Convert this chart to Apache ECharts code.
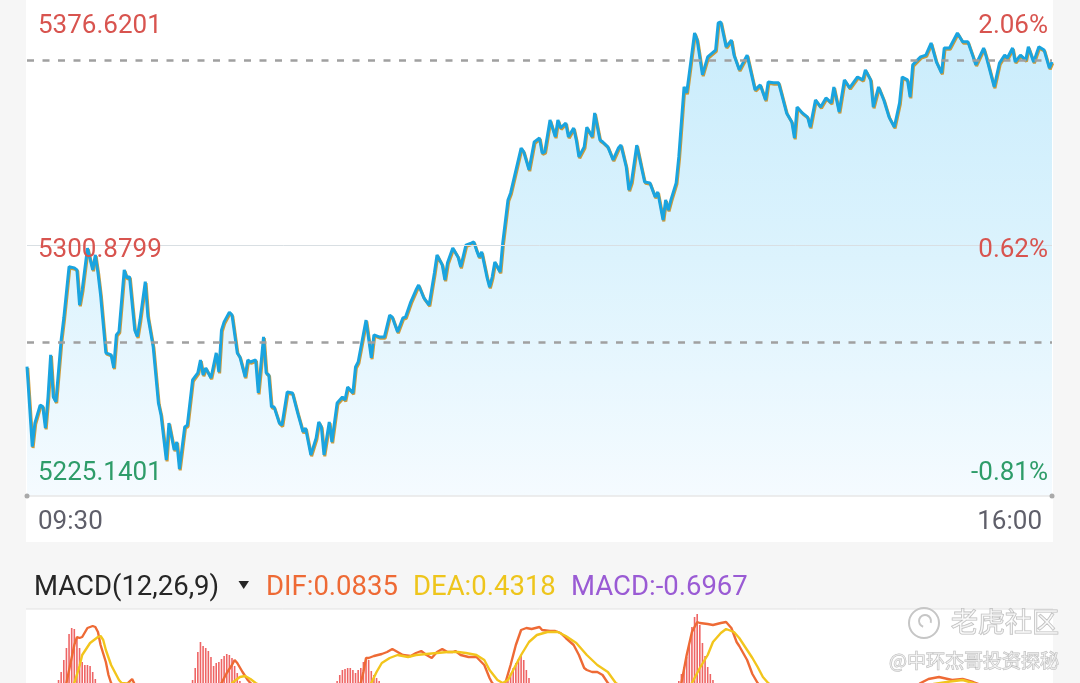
<!DOCTYPE html>
<html><head><meta charset="utf-8">
<script src="https://cdn.jsdelivr.net/npm/echarts@6/dist/echarts.min.js"></script>
<style>html,body{margin:0;padding:0;background:#f6f6f6;}#c{width:1080px;height:683px;}</style>
</head><body><div id="c"></div>
<script>
// ---- price (minutes after 09:30) ----
const priceMinutes = [0,2,3,5,6,7,8,9,10,11,13,14,16,18,19,20,21,23,25,26,27,28,30,32,33,34,35,37,38,39,41,42,43,45,46,48,50,51,53,54,56,57,58,60,61,63,65,66,67,68,70,72,73,74,75,77,78,80,81,83,84,85,87,88,90,91,92,93,94,96,97,99,101,103,105,106,108,110,111,112,113,115,116,118,120,121,122,124,125,126,129,131,132,134,136,138,139,141,143,144,146,148,149,151,153,155,156,158,159,160,162,164,165,167,169,170,171,172,173,175,176,177,178,180,181,183,184,188,189,191,193,195,196,197,199,201,202,203,205,206,208,209,210,212,213,215,216,218,219,221,223,225,226,228,229,230,232,234,235,237,239,240,242,243,244,245,247,248,250,251,252,254,255,257,259,262,263,264,266,268,269,271,274,277,279,281,282,284,286,289,291,292,293,295,297,298,300,302,304,306,307,309,311,313,316,318,319,321,322,324,326,328,330,332,333,335,336,337,340,342,344,346,348,349,351,354,356,358,360,361,364,365,366,368,370,372,373,375,376,378,380,381,383,385,387,389,390];
const priceValues = [5259.8,5232.7,5240.7,5246.8,5246.3,5239.0,5249.6,5263.8,5249.6,5247.9,5268.9,5276.3,5293.7,5293.3,5292.6,5280.7,5285.8,5300.0,5292.6,5297.7,5291.6,5284.1,5264.5,5263.8,5259.4,5270.6,5271.7,5292.6,5289.9,5290.3,5272.2,5270.0,5275.6,5288.6,5276.8,5266.6,5247.5,5243.4,5228.2,5240.7,5231.6,5234.3,5225.14,5239.4,5240.0,5255.3,5257.7,5262.1,5257.0,5259.4,5256.0,5264.5,5258.0,5272.2,5275.0,5278.3,5277.3,5264.5,5263.1,5256.3,5262.1,5261.4,5262.1,5250.9,5269.9,5257.7,5257.0,5246.2,5246.2,5240.7,5240.0,5251.2,5250.9,5244.1,5237.7,5239.0,5229.9,5235.6,5241.1,5239.4,5229.9,5241.1,5234.3,5247.5,5249.5,5248.5,5252.9,5250.9,5259.7,5261.4,5275.6,5262.8,5270.6,5269.9,5269.9,5277.3,5276.6,5271.6,5276.3,5276.6,5281.7,5285.8,5287.5,5283.1,5280.7,5291.6,5297.7,5294.3,5289.2,5295.0,5300.0,5297.0,5293.6,5301.0,5301.7,5302.1,5299.4,5297.0,5298.7,5290.2,5286.8,5290.2,5295.3,5291.9,5301.7,5316.3,5318.7,5333.9,5332.6,5326.5,5336.0,5337.3,5332.2,5332.6,5343.4,5337.7,5343.4,5340.7,5342.4,5337.7,5340.7,5336.6,5330.9,5334.3,5341.0,5337.7,5345.8,5336.6,5336.0,5334.3,5329.9,5333.9,5334.9,5327.5,5319.7,5322.4,5334.9,5326.5,5322.4,5322.1,5317.3,5319.0,5309.5,5316.3,5312.9,5316.3,5322.1,5330.9,5354.6,5352.6,5359.3,5372.9,5370.5,5358.7,5364.8,5367.1,5376.3,5376.62,5368.2,5370.5,5365.4,5360.4,5365.4,5353.6,5355.3,5350.2,5356.3,5356.0,5356.0,5345.8,5342.7,5337.3,5347.8,5345.8,5344.4,5341.0,5350.2,5347.8,5350.9,5349.2,5354.6,5346.1,5357.0,5354.3,5358.0,5357.0,5360.4,5357.0,5347.8,5354.6,5350.2,5344.4,5341.0,5349.2,5358.0,5357.0,5351.2,5362.1,5364.8,5365.4,5369.5,5363.1,5359.3,5367.8,5367.8,5372.9,5369.9,5369.9,5364.8,5362.1,5367.8,5364.8,5361.4,5354.6,5362.7,5365.4,5364.4,5367.8,5363.1,5365.4,5363.7,5368.2,5363.1,5368.2,5367.1,5361.0,5363.1];
const priceLabelValues = [5376.6201, 5300.8799, 5225.1401];
const pctLabels = ['2.06%', '0.62%', '-0.81%'];
const timeLabels = ['09:30', '16:00'];
const prevClose = 5268.05;
const refPrice = 5363.7;

// ---- MACD(12,26,9) ----
const macdMinutes = [12,13,14,15,16,17,18,19,20,21,22,23,24,25,26,27,28,29,30,
  62,63,64,65,66,67,68,69,70,71,72,73,74,75,76,77,78,79,80,81,82,
  116,117,118,119,120,121,122,123,124,125,126,127,128,129,130,131,132,133,134,135,
  182,183,184,185,186,187,188,189,190,191,192,
  247,248,249,250,251,252,253,254,255,256,257,258,259,260,261,262,390];
const macdValues = [3.0,3.8,5.0,6.2,7.6,8.2,8.1,7.2,6.2,4.8,4.5,4.5,4.4,3.8,3.1,2.5,1.8,1.0,0.3,
  2.2,3.0,4.2,5.8,6.8,6.4,6.2,5.9,5.3,4.4,4.7,4.8,5.1,5.4,5.6,5.5,5.2,4.4,3.7,2.9,2.3,
  1.5,2.2,2.9,3.5,4.0,4.1,4.2,4.2,4.0,3.7,4.0,4.2,4.8,5.2,5.0,3.9,3.5,3.2,2.9,2.4,
  2.2,2.9,3.6,4.2,4.7,5.1,5.5,5.0,4.0,3.2,2.5,
  2.2,2.9,3.6,4.3,5.3,6.5,8.3,9.3,9.6,8.5,6.7,5.4,4.3,3.6,3.0,2.5,-0.6967];
const difMinutes = [0,5,10,15,18,19,20,21,23,25,26,27,28,30,31,32,35,38,40,42,48,55,60,66,72,74,76,78,79,80,82,84,85,90,100,110,118,
  127,128,129,130,132,135,137,139,141,143,146,148,150,152,154,156,158,160,162,163,165,168,171,174,176,177,180,182,184,186,188,190,192,195,196,199,201,203,205,208,210,212,213,215,217,219,221,228,238,244,
  249,251,253,255,256,259,261,264,266,268,270,271,274,276,278,285,300,315,325,334,340,343,347,352,356,360,363,370,380,390];
const difValues = [0.0,-1.0,0.5,2.7,6.5,7.3,7.2,7.3,8.2,8.4,8.3,7.8,6.5,4.8,3.5,2.7,1.8,2.6,3.1,2.0,0.0,-2.5,-1.0,1.0,2.0,2.7,3.7,4.5,5.0,4.7,3.8,3.0,2.7,1.5,-1.5,-1.0,1.0,
  2.7,3.8,5.2,5.2,5.4,5.6,5.8,6.1,5.8,5.5,5.4,5.7,5.9,5.5,5.2,5.8,6.1,5.8,5.8,5.9,5.5,5.3,5.3,4.5,3.2,2.7,2.0,2.7,4.5,6.5,8.0,8.2,8.1,8.3,8.0,7.9,7.9,7.7,7.2,6.5,5.5,4.2,4.0,3.8,3.8,3.5,2.7,1.0,-1.0,0.5,
  2.7,5.5,7.8,8.8,8.7,8.6,8.5,8.7,8.8,8.2,6.8,6.4,5.0,3.6,2.7,0.5,-1.0,0.5,-0.5,1.5,2.7,3.1,3.3,3.0,3.1,2.8,2.5,1.5,0.6,0.0835];
const deaMinutes = [0,10,14,18,20,21,24,27,28,29,30,32,35,36,40,45,55,65,75,78,81,83,85,87,95,105,115,123,
  131,133,135,138,141,145,148,152,156,160,164,167,171,174,176,179,181,183,185,188,191,194,198,202,205,209,213,217,221,224,232,242,250,
  253,256,259,261,264,266,269,271,274,276,278,280,282,290,305,320,330,338,345,350,356,361,370,380,390];
const deaValues = [0.0,-0.3,0.5,2.7,4.4,5.5,6.7,7.3,7.4,7.0,6.0,4.5,3.0,2.7,2.6,2.0,-0.5,-1.0,0.5,2.7,3.3,3.4,3.1,2.7,1.5,0.0,-0.5,0.5,
  2.7,3.8,4.7,5.2,5.5,5.3,5.5,5.6,5.7,5.8,5.8,5.7,5.5,5.0,4.0,3.0,2.7,3.0,4.0,5.5,6.8,7.5,7.8,7.8,7.4,6.7,5.5,4.5,3.8,2.7,1.5,0.5,1.5,
  2.7,4.2,5.5,6.8,7.7,8.1,7.8,7.2,6.0,5.2,4.3,3.3,2.7,1.0,-0.5,0.0,1.0,2.2,2.6,2.8,3.0,2.6,1.5,0.8,0.4318];

function zip(a, b) { const n = Math.min(a.length, b.length); const r = []; for (let i = 0; i < n; i++) r.push([a[i], b[i]]); return r; }
const FONT = 'Roboto, "Noto Sans", sans-serif';
const CJK = '"Noto Sans CJK SC", sans-serif';
const RED = '#d8544f', GREEN = '#2e9c69';
const yMin = 5215.99, yMax = 5384.075;

function nearestIdx(v) { v = +v; let bi = 0, bd = Infinity; priceLabelValues.forEach((p, i) => { const d = Math.abs(p - v); if (d < bd) { bd = d; bi = i; } }); return bi; }

const chart = echarts.init(document.getElementById('c'), null, { renderer: 'canvas' });
const last = arr => arr[arr.length - 1];

const option = {
  backgroundColor: '#f6f6f6',
  animation: false,
  grid: [
    { left: 27, right: 28, top: 0, height: 496 },
    { left: 27, right: 28, top: 610, bottom: 0 }
  ],
  xAxis: [
    { type: 'value', gridIndex: 0, min: 0, max: 390, interval: 390, z: 5,
      axisLine: { show: true, onZero: false, lineStyle: { color: '#e8e8e8', width: 1.5 } },
      axisTick: { show: false }, splitLine: { show: false },
      axisLabel: { show: true, margin: 13, fontSize: 26, fontFamily: FONT, color: '#5f5f6a',
        alignMinLabel: 'left', alignMaxLabel: 'right', padding: [0, 10, 0, 11],
        formatter: v => v === 0 ? timeLabels[0] : (v === 390 ? timeLabels[1] : '') } },
    { type: 'value', gridIndex: 1, min: 0, max: 390, show: false }
  ],
  yAxis: [
    { type: 'value', gridIndex: 0, min: yMin, max: yMax, position: 'left', z: 5,
      axisLine: { show: false }, axisTick: { show: false }, splitLine: { show: false },
      axisLabel: { inside: true, margin: 11, fontSize: 26, fontFamily: FONT, verticalAlign: 'top', lineHeight: 10,
        customValues: priceLabelValues,
        formatter: v => priceLabelValues[nearestIdx(v)].toFixed(4),
        color: v => (+v >= prevClose ? RED : GREEN) } },
    { type: 'value', gridIndex: 1, min: 2.7, max: 10, show: false },
    { type: 'value', gridIndex: 0, min: yMin, max: yMax, position: 'right', z: 5,
      axisLine: { show: false }, axisTick: { show: false }, splitLine: { show: false },
      axisLabel: { inside: true, margin: 4, fontSize: 26, fontFamily: FONT, verticalAlign: 'top', lineHeight: 10,
        customValues: priceLabelValues,
        formatter: v => pctLabels[nearestIdx(v)],
        color: v => (+v >= prevClose ? RED : GREEN) } }
  ],
  series: [
    { type: 'line', xAxisIndex: 0, yAxisIndex: 0, data: zip(priceMinutes, priceValues),
      showSymbol: false, symbol: 'none', z: 3,
      lineStyle: { color: '#1aa4df', width: 3, shadowColor: 'rgba(205,145,35,0.9)', shadowBlur: 0, shadowOffsetX: 0.8, shadowOffsetY: 1.3 },
      areaStyle: { opacity: 1, color: new echarts.graphic.LinearGradient(0, 0, 0, 1, [
        { offset: 0, color: '#c9ecfc' }, { offset: 0.5, color: '#dcf3fd' }, { offset: 1, color: '#f5fbff' }]) },
      markLine: { silent: true, symbol: ['none', 'none'], label: { show: false }, animation: false, z: 4,
        data: [
          { yAxis: priceLabelValues[1], lineStyle: { type: 'solid', color: '#d9dfe3', width: 1 } },
          { yAxis: prevClose, lineStyle: { type: [7, 8.5], color: '#a0a0a0', width: 2.5 } },
          { yAxis: refPrice, lineStyle: { type: [7, 8.5], color: '#a0a0a0', width: 2.5 } }
        ] } },
    { type: 'bar', xAxisIndex: 1, yAxisIndex: 1, data: zip(macdMinutes, macdValues), barWidth: 1.6,
      itemStyle: { color: p => (p.value[1] >= 0 ? 'rgba(236,84,84,0.9)' : GREEN) } },
    { type: 'line', xAxisIndex: 1, yAxisIndex: 1, data: zip(difMinutes, difValues), showSymbol: false, symbol: 'none',
      lineStyle: { color: '#ee6a35', width: 2.4 } },
    { type: 'line', xAxisIndex: 1, yAxisIndex: 1, data: zip(deaMinutes, deaValues), showSymbol: false, symbol: 'none',
      lineStyle: { color: '#f2c51c', width: 2.4 } }
  ],
  graphic: [
    { type: 'rect', z: -1, silent: true, shape: { x: 26, y: 0, width: 1027, height: 542 }, style: { fill: '#ffffff' } },
    { type: 'rect', z: -1, silent: true, shape: { x: 26, y: 609, width: 1027, height: 74 }, style: { fill: '#ffffff' } },
    { type: 'line', silent: true, shape: { x1: 26, y1: 609, x2: 1053, y2: 609 }, style: { stroke: '#e2e2e2', lineWidth: 1 } },
    { type: 'circle', silent: true, z: 10, shape: { cx: 27, cy: 496, r: 2.5 }, style: { fill: '#a9a9a9' } },
    { type: 'circle', silent: true, z: 10, shape: { cx: 1052, cy: 496, r: 2.5 }, style: { fill: '#a9a9a9' } },
    { type: 'text', silent: true, x: 34, y: 588, style: { text: 'MACD(12,26,9)', fill: '#262626', font: '27.5px ' + FONT, verticalAlign: 'middle', align: 'left' } },
    { type: 'polygon', silent: true, shape: { points: [[238.5, 581], [249, 581], [243.7, 589]] }, style: { fill: '#262626' } },
    { type: 'text', silent: true, x: 266, y: 588, style: { text: 'DIF:' + last(difValues).toFixed(4), fill: '#ee6a35', font: '27.5px ' + FONT, verticalAlign: 'middle', align: 'left' } },
    { type: 'text', silent: true, x: 413, y: 588, style: { text: 'DEA:' + last(deaValues).toFixed(4), fill: '#eec51c', font: '27.5px ' + FONT, verticalAlign: 'middle', align: 'left' } },
    { type: 'text', silent: true, x: 571, y: 588, style: { text: 'MACD:' + last(macdValues).toFixed(4), fill: '#9a5bd4', font: '27.5px ' + FONT, verticalAlign: 'middle', align: 'left' } },
    { type: 'circle', silent: true, z: 20, shape: { cx: 924, cy: 623, r: 15 }, style: { fill: 'rgba(255,255,255,0.4)', stroke: '#c6c6c6', lineWidth: 2 } },
    { type: 'arc', silent: true, z: 20, shape: { cx: 925, cy: 621, r: 6, startAngle: Math.PI * 0.6, endAngle: Math.PI * 2.1 }, style: { fill: 'none', stroke: '#c6c6c6', lineWidth: 2 } },
    { type: 'text', silent: true, z: 20, x: 951, y: 622, style: { text: '老虎社区', fill: 'rgba(255,255,255,0.55)', stroke: '#bcbcbc', lineWidth: 1.2, font: '27px ' + CJK, verticalAlign: 'middle', align: 'left' } },
    { type: 'text', silent: true, z: 20, x: 889, y: 661, style: { text: '@中环杰哥投资探秘', fill: 'rgba(255,255,255,0.55)', stroke: '#bcbcbc', lineWidth: 1, font: '19px ' + CJK, verticalAlign: 'middle', align: 'left' } }
  ]
};
chart.setOption(option);
</script></body></html>
